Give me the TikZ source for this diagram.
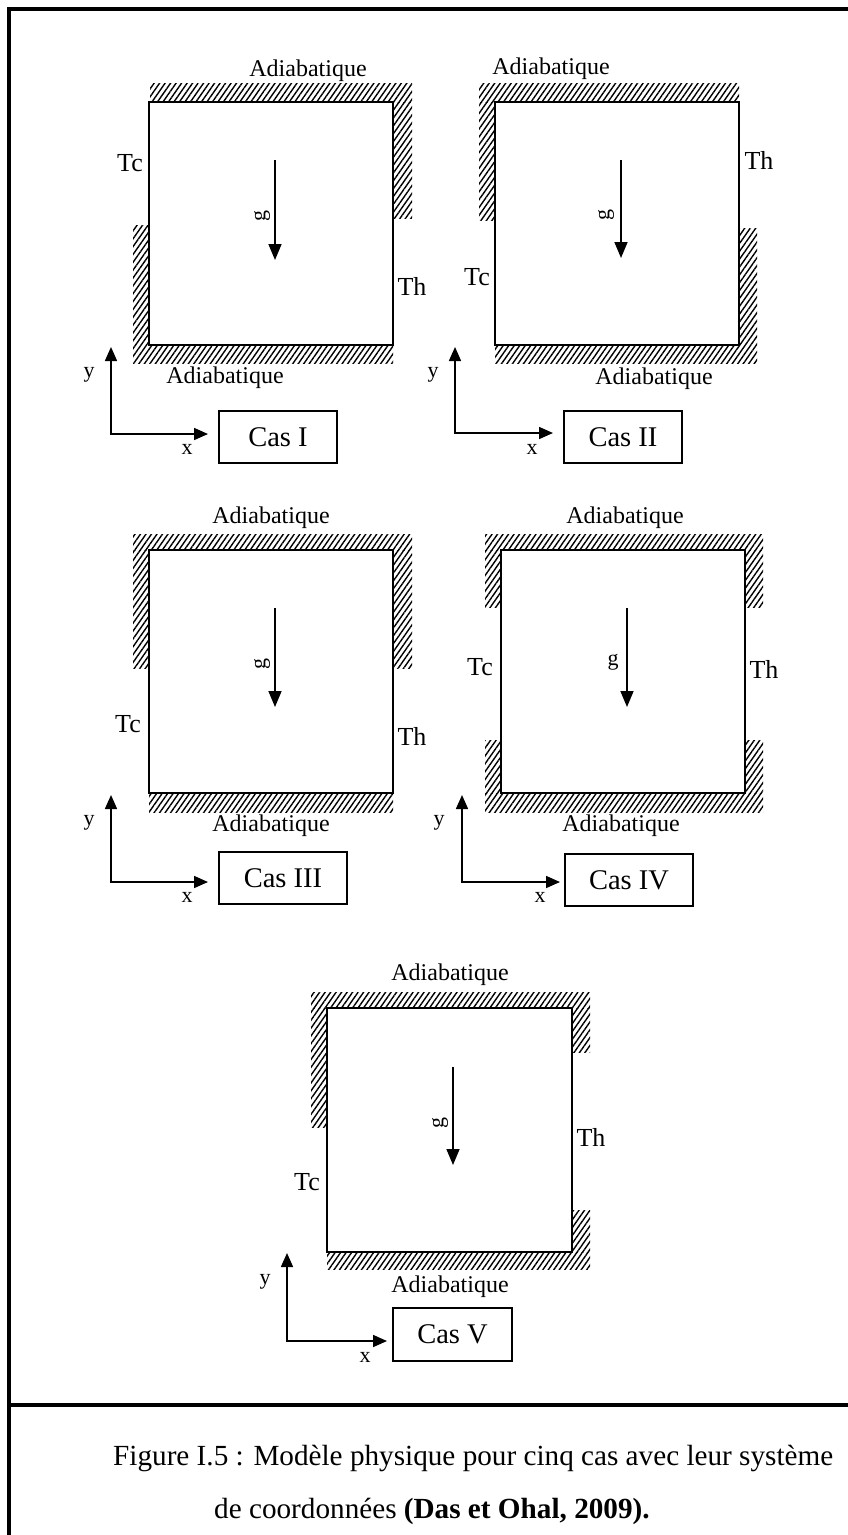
\documentclass[tikz,border=0pt]{standalone}
\usepackage{fontspec}
\setmainfont{Liberation Serif}
\usetikzlibrary{patterns.meta,arrows.meta}
\tikzset{
  wall/.style={line width=2pt},
  hatch/.style={pattern={Lines[angle=55,distance=4.5pt,line width=1.4pt]}},
  tlbl/.style={inner sep=0pt, font=\fontsize{26}{28}\selectfont},
  adia/.style={inner sep=0pt, font=\fontsize{24}{26}\selectfont},
  glbl/.style={inner sep=0pt, font=\fontsize{22}{24}\selectfont},
  axl/.style={inner sep=0pt, font=\fontsize{22}{24}\selectfont},
  casbox/.style={draw, line width=1.6pt, minimum height=52pt, inner sep=0pt, font=\fontsize{28.5}{30}\selectfont},
  garrow/.style={line width=1.6pt, -{Triangle[length=16pt,width=13pt]}},
  axes/.style={line width=1.6pt, {Triangle[length=14pt,width=12pt]}-{Triangle[length=14pt,width=12pt]}},
  frame/.style={line width=4pt},
  captxt/.style={inner sep=0pt, anchor=base west, font=\fontsize{29.2}{31}\selectfont},
}
\begin{document}
\begin{tikzpicture}[x=1pt,y=-1pt]
\useasboundingbox (0,0) rectangle (848,1535);
\clip (0,0) rectangle (848,1535);
% frame
\coordinate (fTL) at (9,9);
\coordinate (fTR) at (860,9);
\coordinate (fBL) at (9,1545);
\coordinate (dL) at (9,1405);
\coordinate (dR) at (860,1405);
\draw[frame] (fTR) -- (fTL) -- (fBL);
\draw[frame] (dL) -- (dR);

% ---------- Case I ----------
\fill[hatch] (150,83) rectangle (412,102);
\fill[hatch] (393,102) rectangle (412,218);
\fill[hatch] (133,225) rectangle (149,363);
\fill[hatch] (149,345) rectangle (393,363);
\draw[wall] (149,102) rectangle (393,345);
\coordinate (g1s) at (275,160); \coordinate (g1e) at (275,260);
\draw[garrow] (g1s) -- (g1e);
\node[glbl, rotate=90] (g1) at (262,216) {g};
\node[tlbl] (tc1) at (130,163) {Tc};
\node[tlbl] (th1) at (412,286) {Th};
\node[adia] (at1) at (308,71) {Adiabatique};
\node[adia] (ab1) at (225,378) {Adiabatique};
\coordinate (o1) at (111,434); \coordinate (y1) at (111,347); \coordinate (x1) at (208,434);
\draw[axes] (y1) -- (o1) -- (x1);
\node[axl] (ly1) at (89,375) {y};
\node[axl] (lx1) at (187,449) {x};
\node[casbox, minimum width=118pt] (cas1) at (278,437) {Cas I};

% ---------- Case II ----------
\fill[hatch] (479,83) rectangle (739,102);
\fill[hatch] (479,102) rectangle (495,220);
\fill[hatch] (739,228) rectangle (757,363);
\fill[hatch] (495,345) rectangle (739,363);
\draw[wall] (495,102) rectangle (739,345);
\coordinate (g2s) at (621,160); \coordinate (g2e) at (621,258);
\draw[garrow] (g2s) -- (g2e);
\node[glbl, rotate=90] (g2) at (606,215) {g};
\node[tlbl] (tc2) at (477,277) {Tc};
\node[tlbl] (th2) at (759,160) {Th};
\node[adia] (at2) at (551,69) {Adiabatique};
\node[adia] (ab2) at (654,379) {Adiabatique};
\coordinate (o2) at (455,433); \coordinate (y2) at (455,347); \coordinate (x2) at (553,433);
\draw[axes] (y2) -- (o2) -- (x2);
\node[axl] (ly2) at (433,375) {y};
\node[axl] (lx2) at (532,449) {x};
\node[casbox, minimum width=118pt] (cas2) at (623,437) {Cas II};

% ---------- Case III ----------
\fill[hatch] (133,534) rectangle (412,550);
\fill[hatch] (133,550) rectangle (149,668);
\fill[hatch] (393,550) rectangle (412,668);
\fill[hatch] (149,793) rectangle (393,812);
\draw[wall] (149,550) rectangle (393,793);
\coordinate (g3s) at (275,608); \coordinate (g3e) at (275,707);
\draw[garrow] (g3s) -- (g3e);
\node[glbl, rotate=90] (g3) at (262,664) {g};
\node[tlbl] (tc3) at (128,724) {Tc};
\node[tlbl] (th3) at (412,736) {Th};
\node[adia] (at3) at (271,518) {Adiabatique};
\node[adia] (ab3) at (271,826) {Adiabatique};
\coordinate (o3) at (111,882); \coordinate (y3) at (111,795); \coordinate (x3) at (208,882);
\draw[axes] (y3) -- (o3) -- (x3);
\node[axl] (ly3) at (89,823) {y};
\node[axl] (lx3) at (187,897) {x};
\node[casbox, minimum width=128pt] (cas3) at (283,878) {Cas III};

% ---------- Case IV ----------
\fill[hatch] (485,534) rectangle (763,550);
\fill[hatch] (485,550) rectangle (501,607);
\fill[hatch] (745,550) rectangle (763,607);
\fill[hatch] (485,740) rectangle (501,793);
\fill[hatch] (745,740) rectangle (763,793);
\fill[hatch] (485,793) rectangle (763,812);
\draw[wall] (501,550) rectangle (745,793);
\coordinate (g4s) at (627,608); \coordinate (g4e) at (627,707);
\draw[garrow] (g4s) -- (g4e);
\node[glbl] (g4) at (613,662) {g};
\node[tlbl] (tc4) at (480,667) {Tc};
\node[tlbl] (th4) at (764,669) {Th};
\node[adia] (at4) at (625,518) {Adiabatique};
\node[adia] (ab4) at (621,826) {Adiabatique};
\coordinate (o4) at (462,882); \coordinate (y4) at (462,795); \coordinate (x4) at (560,882);
\draw[axes] (y4) -- (o4) -- (x4);
\node[axl] (ly4) at (439,823) {y};
\node[axl] (lx4) at (540,897) {x};
\node[casbox, minimum width=128pt] (cas4) at (629,880) {Cas IV};

% ---------- Case V ----------
\fill[hatch] (311,992) rectangle (590,1008);
\fill[hatch] (311,1008) rectangle (327,1127);
\fill[hatch] (572,1008) rectangle (590,1052);
\fill[hatch] (572,1210) rectangle (590,1252);
\fill[hatch] (327,1252) rectangle (590,1269);
\draw[wall] (327,1008) rectangle (572,1252);
\coordinate (g5s) at (453,1067); \coordinate (g5e) at (453,1165);
\draw[garrow] (g5s) -- (g5e);
\node[glbl, rotate=90] (g5) at (440,1123) {g};
\node[tlbl] (tc5) at (307,1182) {Tc};
\node[tlbl] (th5) at (591,1137) {Th};
\node[adia] (at5) at (450,975) {Adiabatique};
\node[adia] (ab5) at (450,1287) {Adiabatique};
\coordinate (o5) at (287,1341); \coordinate (y5) at (287,1253); \coordinate (x5) at (387,1341);
\draw[axes] (y5) -- (o5) -- (x5);
\node[axl] (ly5) at (265,1282) {y};
\node[axl] (lx5) at (365,1357) {x};
\node[casbox, minimum width=119pt, minimum height=53pt] (cas5) at (452.5,1334.5) {Cas V};

% ---------- Caption ----------
\node[captxt] (cap1) at (113,1465)
  {Figure I.5 : Modèle physique pour cinq cas avec leur système};
\node[captxt] (cap2) at (214,1518)
  {de coordonnées \textbf{(Das et Ohal, 2009).}};
\end{tikzpicture}
\end{document}
